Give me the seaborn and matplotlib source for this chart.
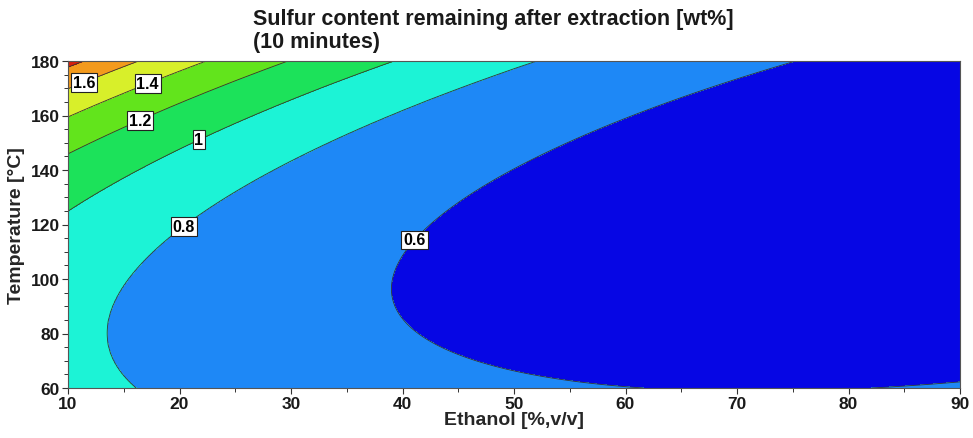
import numpy as np
import matplotlib
matplotlib.use("Agg")
import matplotlib.pyplot as plt
import seaborn as sns
from matplotlib.ticker import MultipleLocator

# ---- data (points lying on each iso-line) ----
level_values = [0.6, 0.8, 1.0, 1.2, 1.4, 1.6, 1.8]
level_labels = ["0.6", "0.8", "1", "1.2", "1.4", "1.6", ""]

iso_ethanol = [11.3, 10.0,
               16.0, 10.0, 11.5,
               22.2, 10.0, 17.2,
               30.2, 10.0, 16.5, 17.35,
               39.7, 10.0, 17.35, 21.8, 30.8,
               53.2, 44.3, 35.3, 24.5, 21.8, 20.6, 14.5, 13.47, 14.9, 16.0,
               75.0, 55.0, 48.7, 45.4, 41.8, 40.9, 38.4, 41.0, 47.0, 54.1, 61.0, 84.0, 90.0]
iso_temperature = [180.0, 177.5,
                   180.0, 169.7, 171.9,
                   180.0, 159.8, 171.2,
                   180.0, 146.6, 158.0, 160.5,
                   180.0, 126.4, 142.9, 150.6, 166.8,
                   180.0, 170.5, 154.4, 129.4, 122.0, 118.7, 98.9, 80.4, 68.1, 60.0,
                   180.0, 150.8, 136.7, 129.4, 118.3, 115.4, 96.0, 80.6, 70.6, 63.7, 60.0, 60.0, 62.6]
iso_sulfur = [1.8, 1.8,
              1.6, 1.6, 1.6,
              1.4, 1.4, 1.4,
              1.2, 1.2, 1.2, 1.2,
              1.0, 1.0, 1.0, 1.0, 1.0,
              0.8, 0.8, 0.8, 0.8, 0.8, 0.8, 0.8, 0.8, 0.8, 0.8,
              0.6, 0.6, 0.6, 0.6, 0.6, 0.6, 0.6, 0.6, 0.6, 0.6, 0.6, 0.6, 0.6]

label_ethanol = [40.9, 20.5, 21.8, 16.5, 17.2, 11.5]
label_temperature = [115.0, 118.7, 150.6, 158.0, 171.2, 171.6]

band_colors = ["#0606E4", "#1E88F6", "#1CF3D6", "#1CE25A",
               "#62E41C", "#D8EF2A", "#F39A1C", "#D8200C"]

x_ticks = [10, 20, 30, 40, 50, 60, 70, 80, 90]
y_ticks = [60, 80, 100, 120, 140, 160, 180]

# ---- response surface: quadratic index q(E,T), each iso-level a free q value ----
E = np.asarray(iso_ethanol)
T = np.asarray(iso_temperature)
S = np.asarray(iso_sulfur)
lv = np.asarray(level_values)

def basis(e, t):
    u = (e - 50.0) / 40.0
    v = (t - 120.0) / 60.0
    return np.stack([np.ones_like(u), u, v, u * u, v * v, u * v], axis=-1)

nb = 6
A = np.zeros((len(S), nb + len(lv) - 2))
b = np.zeros(len(S))
A[:, :nb] = basis(E, T)
w = np.ones(len(S))
for i, s in enumerate(S):
    k = int(np.argmin(np.abs(lv - s)))
    if k == 0:
        b[i] = 0.0
    elif k == 1:
        b[i] = 1.0
    else:
        A[i, nb + k - 2] = -1.0
    if k >= 4:
        w[i] = 3.0
sol, *_ = np.linalg.lstsq(A * w[:, None], b * w, rcond=None)
coef = sol[:nb]
q_knots = np.concatenate([[0.0, 1.0], sol[nb:]])
order = np.argsort(q_knots)
qk, sk = q_knots[order], lv[order]

def q_to_s(q):
    out = np.interp(q, qk, sk)
    lo = q < qk[0]
    hi = q > qk[-1]
    out[lo] = sk[0] + (q[lo] - qk[0]) * (sk[1] - sk[0]) / (qk[1] - qk[0])
    out[hi] = sk[-1] + (q[hi] - qk[-1]) * (sk[-1] - sk[-2]) / (qk[-1] - qk[-2])
    return out

eg = np.linspace(10, 90, 400)
tg = np.linspace(60, 180, 400)
EE, TT = np.meshgrid(eg, tg)
ZZ = q_to_s(basis(EE, TT) @ coef)

# ---- plotting ----
sns.set_theme(style="ticks")
plt.rcParams["font.family"] = ["Liberation Sans", "DejaVu Sans"]
plt.rcParams["font.weight"] = "bold"
plt.rcParams["text.color"] = "#1a1a1a"

fig = plt.figure(figsize=(9.73, 4.39), dpi=100)
ax = fig.add_axes([68 / 973, 1 - 389 / 439, (960 - 68) / 973, (389 - 62) / 439])

bounds = [-100] + level_values + [100]
ax.contourf(EE, TT, ZZ, levels=bounds, colors=band_colors)
cs = ax.contour(EE, TT, ZZ, levels=level_values, colors="#333333", linewidths=0.6)
fmt = dict(zip(level_values, level_labels))
texts = ax.clabel(cs, levels=level_values[:-1], fmt=fmt, inline=False, fontsize=11.5,
                  colors="black",
                  manual=list(zip(label_ethanol, label_temperature)))
for t in texts:
    t.set_rotation(0)
    t.set_fontweight("bold")
    t.set_bbox(dict(boxstyle="square,pad=0.12", fc="white", ec="#222222", lw=0.8))

ax.set_xlim(10, 90)
ax.set_ylim(60, 180)
ax.set_xticks(x_ticks)
ax.set_yticks(y_ticks)
ax.xaxis.set_minor_locator(MultipleLocator(5))
ax.yaxis.set_minor_locator(MultipleLocator(5))
ax.tick_params(axis="both", which="major", length=4, width=0.8, labelsize=12.5,
               pad=2, color="#333333", labelcolor="#1a1a1a")
ax.tick_params(axis="both", which="minor", length=3, width=0.7, color="#333333")
for lab in ax.get_xticklabels() + ax.get_yticklabels():
    lab.set_fontweight("bold")
for sp in ax.spines.values():
    sp.set_color("#555555")
    sp.set_linewidth(0.8)

ax.set_xlabel("Ethanol [%,v/v]", fontsize=14, fontweight="bold", labelpad=0)
ax.set_ylabel("Temperature [°C]", fontsize=14, fontweight="bold", labelpad=4)

fig.text(253 / 973, 1 - 9 / 439, "\n".join(["Sulfur content remaining after extraction [wt%]",
                                          "(10 minutes)"]),
         ha="left", va="top", fontsize=15.5, fontweight="bold", linespacing=1.15)

fig.savefig("out.png", dpi=100)
